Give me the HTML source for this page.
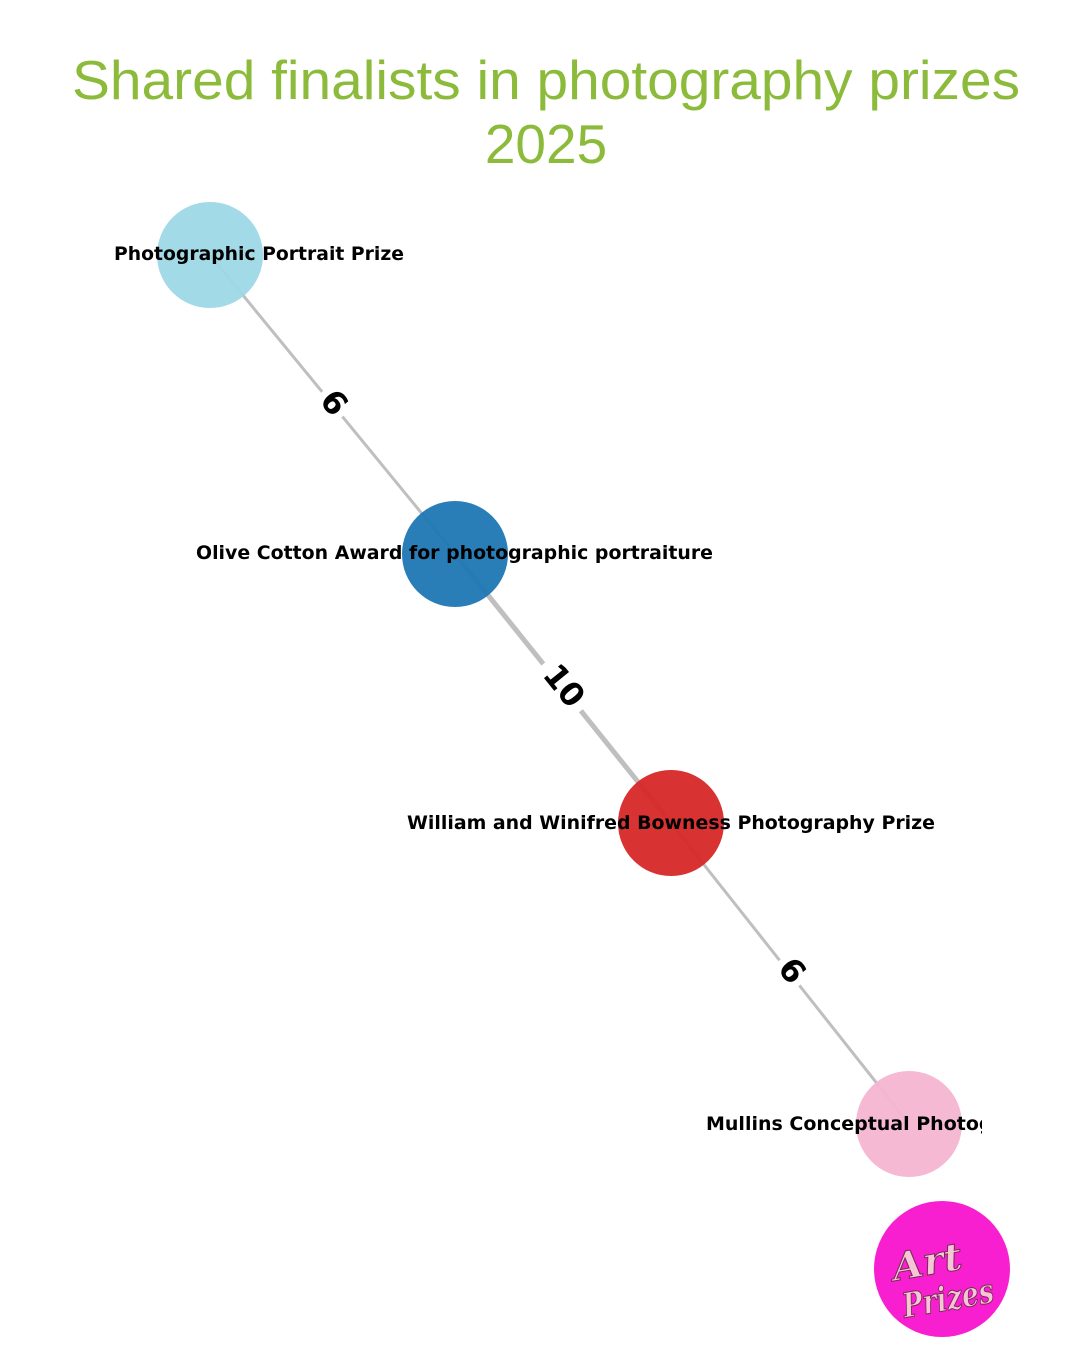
<!DOCTYPE html>
<html><head><meta charset="utf-8"><style>
html,body{margin:0;padding:0;background:#fff;}
svg{display:block;}
</style></head><body>
<svg width="1080" height="1350" viewBox="0 0 1080 1350" xmlns="http://www.w3.org/2000/svg">
<defs><clipPath id="clip"><rect x="0" y="0" width="982" height="1350"/></clipPath></defs>
<rect width="1080" height="1350" fill="#fff"/>
<text x="546" y="99" text-anchor="middle" font-family="Liberation Sans, sans-serif" font-size="55" fill="#8cbb3c" textLength="948" lengthAdjust="spacingAndGlyphs">Shared finalists in photography prizes</text>
<text x="546" y="163" text-anchor="middle" font-family="Liberation Sans, sans-serif" font-size="55" fill="#8cbb3c">2025</text>
<g stroke="#bfbfbf" stroke-linecap="butt">
<line x1="210" y1="255" x2="455" y2="554" stroke-width="3"/>
<line x1="455" y1="554" x2="671" y2="823" stroke-width="5"/>
<line x1="671" y1="823" x2="909" y2="1124" stroke-width="3"/>
</g>
<g font-family="DejaVu Sans, sans-serif" font-weight="bold" font-size="32" fill="#000" text-anchor="middle">
<g transform="translate(335,402) rotate(51)"><rect x="-16" y="-22" width="32" height="44" fill="#fff"/><text x="0" y="12">6</text></g>
<g transform="translate(565,685) rotate(51)"><rect x="-30" y="-22" width="60" height="44" fill="#fff"/><text x="0" y="12">10</text></g>
<g transform="translate(793,970) rotate(51)"><rect x="-16" y="-22" width="32" height="44" fill="#fff"/><text x="0" y="12">6</text></g>
</g>
<circle cx="210" cy="255" r="53" fill="#9dd8e6" opacity="0.95"/>
<circle cx="455" cy="554" r="53" fill="#1f77b4" opacity="0.95"/>
<circle cx="671" cy="823" r="53" fill="#d62728" opacity="0.95"/>
<circle cx="909" cy="1124" r="53" fill="#f5b5d2" opacity="0.95"/>
<g font-family="DejaVu Sans, sans-serif" font-weight="bold" font-size="19" fill="#000">
<text x="114" y="260" textLength="290" lengthAdjust="spacingAndGlyphs">Photographic Portrait Prize</text>
<text x="196" y="559" textLength="517" lengthAdjust="spacingAndGlyphs">Olive Cotton Award for photographic portraiture</text>
<text x="407" y="829" textLength="528" lengthAdjust="spacingAndGlyphs">William and Winifred Bowness Photography Prize</text>
<text x="706" y="1130" clip-path="url(#clip)">Mullins Conceptual Photography Prize</text>
</g>
<circle cx="942" cy="1269" r="68" fill="#f71fd0"/>
<g font-family="DejaVu Serif, serif" font-style="italic" font-weight="bold" fill="#f6c6d8" stroke="#7a2a55" stroke-width="1">
<text x="892" y="1275" font-size="38" textLength="70" lengthAdjust="spacingAndGlyphs" transform="rotate(-10 927 1262)">Art</text>
<text x="902" y="1310" font-size="34" textLength="92" lengthAdjust="spacingAndGlyphs" transform="rotate(-10 948 1298)">Prizes</text>
</g>
</svg>
</body></html>
